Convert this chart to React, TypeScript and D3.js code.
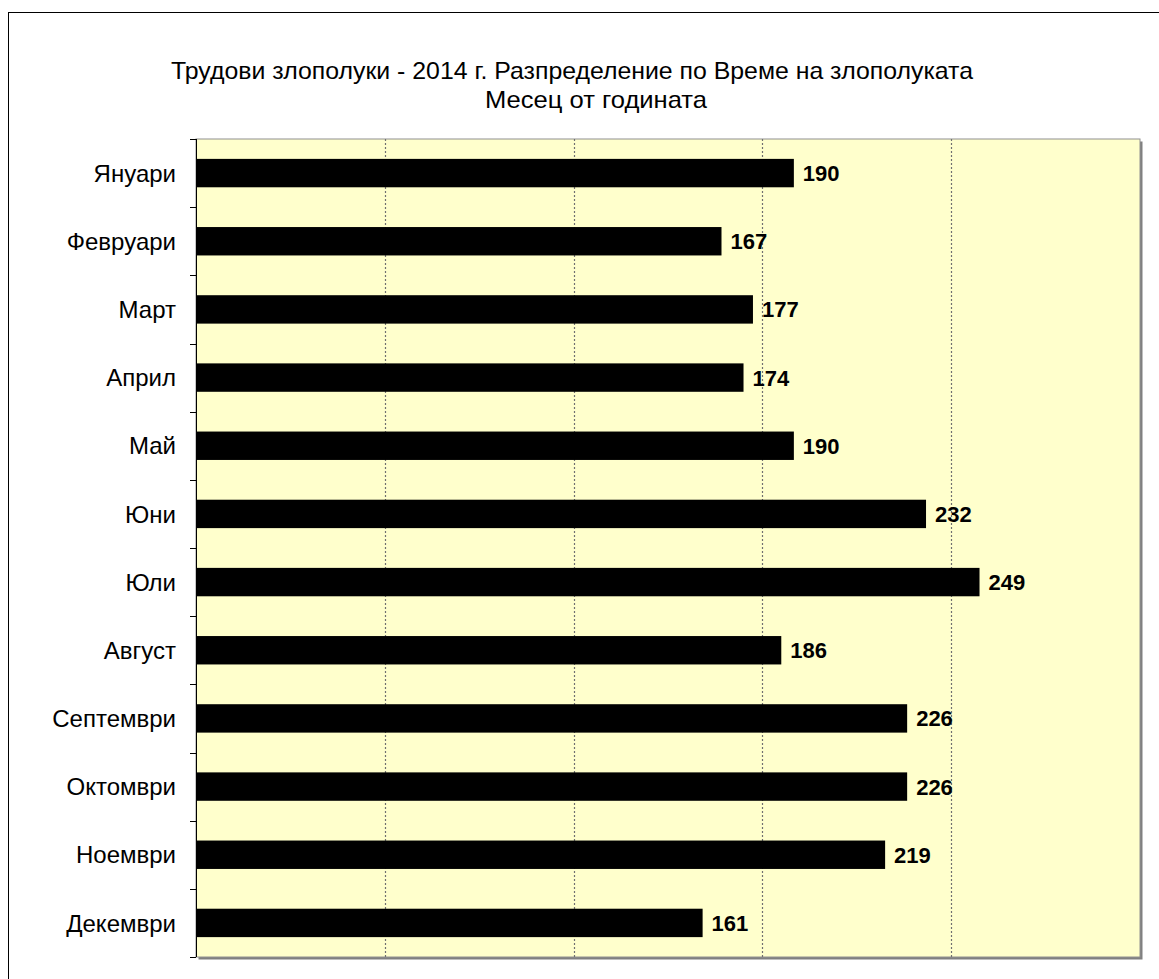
import React, { useEffect } from "react"
import * as d3 from "d3"

// ---------- Data ----------
const titleLines = [
    "Трудови злополуки - 2014 г. Разпределение по Време на злополуката",
    "Месец от годината",
]
const months = [
    "Януари", "Февруари", "Март", "Април", "Май", "Юни",
    "Юли", "Август", "Септември", "Октомври", "Ноември", "Декември",
]
const counts = [190, 167, 177, 174, 190, 232, 249, 186, 226, 226, 219, 161]
const gridValues = [60, 120, 180, 240]

// ---------- Layout ----------
const W = 1159
const H = 979
const plot = { left: 196, right: 1140, top: 139, bottom: 957 }
const FONT = "Arial, 'Liberation Sans', sans-serif"

const App: React.FC = () => {
    useEffect(() => {
        document.body.style.margin = "0"
        document.body.style.overflow = "hidden"
    }, [])

    const x = d3.scaleLinear().domain([0, 300]).range([plot.left, plot.right])
    const y = d3.scaleBand<string>().domain(months).range([plot.top, plot.bottom]).padding(0)
    const band = y.bandwidth()
    const barH = band / 2.4 // gap width 140%

    const boundaries = [...months.map(m => y(m) ?? 0), plot.bottom]

    return (
        <svg width={W} height={H} style={{ display: "block", background: "#fff" }} fontFamily={FONT}>
            {/* outer chart frame */}
            <rect x={8.5} y={12.5} width={1300} height={1300} fill="#fff" stroke="#000" strokeWidth={1} />

            {/* title */}
            <text x={572} y={79} textAnchor="middle" fontSize={24}
                textLength={802} lengthAdjust="spacingAndGlyphs">{titleLines[0]}</text>
            <text x={596} y={108} textAnchor="middle" fontSize={24}
                textLength={222} lengthAdjust="spacingAndGlyphs">{titleLines[1]}</text>

            {/* plot area with shadow */}
            <rect x={plot.left + 2.5} y={plot.top + 2.5} width={plot.right - plot.left} height={plot.bottom - plot.top} fill="#808080" />
            <rect x={plot.left} y={plot.top} width={plot.right - plot.left} height={plot.bottom - plot.top}
                fill="#FFFFCC" stroke="#909090" strokeWidth={1} />

            {/* grid lines */}
            {gridValues.map(v => (
                <line key={v} x1={Math.round(x(v)) + 0.5} x2={Math.round(x(v)) + 0.5} y1={plot.top} y2={plot.bottom}
                    stroke="#707070" strokeWidth={1.2} strokeDasharray="2,2" />
            ))}

            {/* bars */}
            {months.map((m, i) => {
                const cy = (y(m) ?? 0) + band / 2
                return (
                    <g key={m}>
                        <rect x={x(0)} y={cy - barH / 2} width={x(counts[i]) - x(0)} height={barH} fill="#000" />
                        <text x={x(counts[i]) + 9} y={cy} dy="0.36em" fontSize={22} fontWeight="bold">{counts[i]}</text>
                        <text x={176} y={cy} dy="0.36em" textAnchor="end" fontSize={24}>{m}</text>
                    </g>
                )
            })}

            {/* category axis */}
            <line x1={plot.left + 0.5} x2={plot.left + 0.5} y1={plot.top} y2={plot.bottom} stroke="#000" />
            {boundaries.map((b, i) => (
                <line key={i} x1={plot.left - 6} x2={plot.left} y1={Math.round(b) + 0.5} y2={Math.round(b) + 0.5} stroke="#000" />
            ))}
        </svg>
    )
}

export default App
